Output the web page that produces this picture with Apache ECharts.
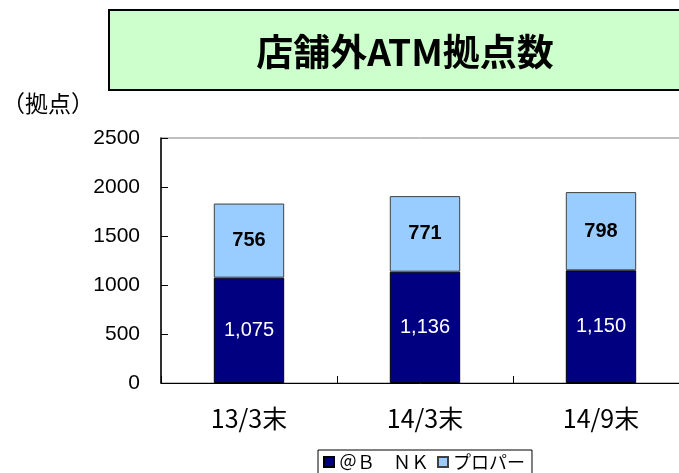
<!DOCTYPE html>
<html>
<head>
<meta charset="utf-8">
<script src="https://cdn.jsdelivr.net/npm/echarts@6/dist/echarts.min.js"></script>
<style>
html,body{margin:0;padding:0;background:#fff;}
#chart{width:679px;height:473px;}
</style>
</head>
<body>
<div id="chart"></div>
<script>
const categories = ['13/3末', '14/3末', '14/9末'];
const seriesNames = ['＠Ｂ　ＮＫ', 'プロパー'];
const bankValues = [1075, 1136, 1150];
const properValues = [756, 771, 798];
const yTicks = [0, 500, 1000, 1500, 2000, 2500];

const chart = echarts.init(document.getElementById('chart'));
const fontJP = '"Noto Sans CJK JP", "Liberation Sans", sans-serif';
const fontNum = '"Liberation Sans", Arial, sans-serif';

chart.setOption({
  animation: false,
  backgroundColor: '#ffffff',
  graphic: [
    {
      type: 'rect',
      shape: { x: 109, y: 10, width: 620, height: 80 },
      style: { fill: '#ccffcc', stroke: '#000000', lineWidth: 2 },
      z: 1
    },
    {
      type: 'text',
      x: 405, y: 52,
      style: {
        text: '店舗外ATM拠点数',
        fill: '#000000',
        font: 'bold 37px "Noto Sans CJK JP", sans-serif',
        textAlign: 'center',
        textVerticalAlign: 'middle'
      },
      z: 2
    },
    {
      type: 'text',
      x: 2, y: 103,
      style: {
        text: '（拠点）',
        fill: '#000000',
        font: '23px "Noto Sans CJK JP", sans-serif',
        textAlign: 'left',
        textVerticalAlign: 'middle'
      },
      z: 2
    }
  ],
  legend: {
    left: 318,
    top: 450,
    data: seriesNames,
    icon: 'rect',
    itemWidth: 10,
    itemHeight: 10,
    itemGap: 8,
    borderColor: '#000000',
    borderWidth: 1,
    padding: [3, 7, 4, 5],
    textStyle: { fontSize: 18, color: '#000', fontFamily: fontJP }
  },
  grid: {
    left: 161,
    top: 138,
    width: 528,
    bottom: 90,
    show: true,
    borderColor: '#808080',
    borderWidth: 1,
    containLabel: false,
    outerBoundsMode: 'none'
  },
  xAxis: {
    type: 'category',
    data: categories,
    axisLine: { lineStyle: { color: '#000000', width: 1 } },
    axisTick: { show: true, inside: true, length: 7, alignWithLabel: false, lineStyle: { color: '#000' } },
    axisLabel: { color: '#000000', fontSize: 25, fontFamily: fontJP, margin: 23 },
    splitLine: { show: false }
  },
  yAxis: {
    type: 'value',
    min: yTicks[0],
    max: yTicks[yTicks.length - 1],
    interval: 500,
    axisLine: { show: true, lineStyle: { color: '#000000', width: 1.5 } },
    axisTick: { show: true, inside: true, length: 7, lineStyle: { color: '#000' } },
    axisLabel: { color: '#000000', fontSize: 21, fontFamily: fontNum, margin: 21, formatter: v => String(v) },
    splitLine: { show: false }
  },
  series: [
    {
      name: seriesNames[0],
      type: 'bar',
      stack: 'total',
      barWidth: '40%',
      data: bankValues,
      itemStyle: { color: '#000080', borderColor: '#000000', borderWidth: 1 },
      label: {
        show: true,
        position: 'inside',
        color: '#ffffff',
        fontSize: 20,
        fontFamily: fontNum,
        formatter: p => p.value.toLocaleString('en-US')
      }
    },
    {
      name: seriesNames[1],
      type: 'bar',
      stack: 'total',
      barWidth: '40%',
      data: properValues,
      itemStyle: { color: '#99ccff', borderColor: '#404040', borderWidth: 1 },
      label: {
        show: true,
        position: 'inside',
        color: '#000000',
        fontSize: 20,
        fontWeight: 'bold',
        fontFamily: fontNum,
        formatter: p => String(p.value)
      }
    }
  ]
});
</script>
</body>
</html>
